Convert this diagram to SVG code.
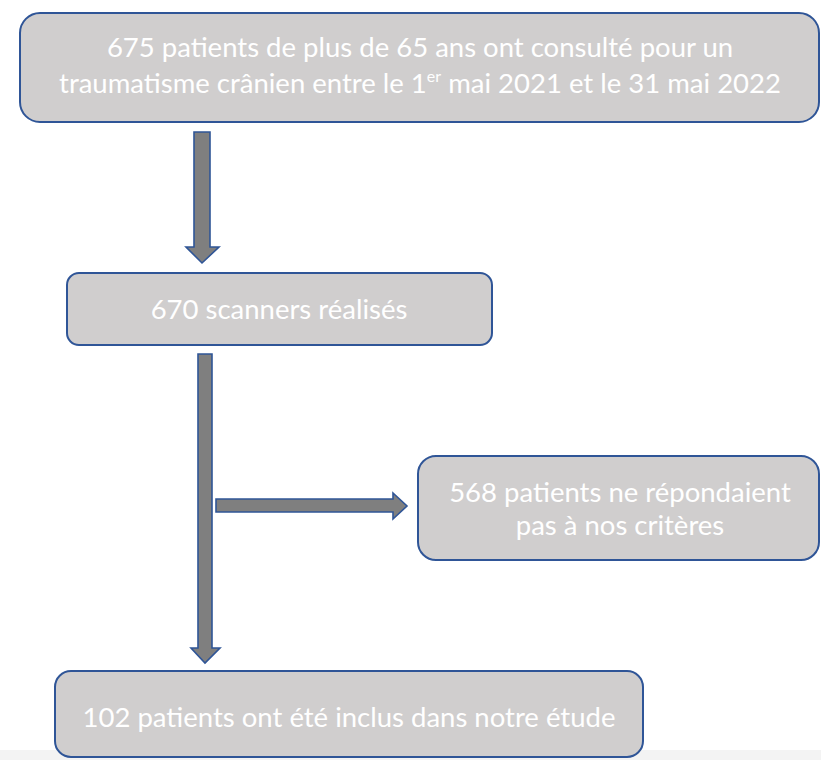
<svg xmlns="http://www.w3.org/2000/svg" width="821" height="760" viewBox="0 0 821 760">
<style>
.box{fill:#d0cece;stroke:#2f5597;stroke-width:2}
.arr{fill:#7f7f7f;stroke:#2f5597;stroke-width:1.6;stroke-linejoin:miter}
.t{fill:#ffffff;font-family:Lato,"Open Sans","Liberation Sans",sans-serif;font-size:27.5px;text-anchor:middle}
</style>
<rect x="0" y="0" width="821" height="760" fill="#ffffff"/>
<rect x="0" y="750" width="821" height="10" fill="#f3f3f3"/>
<g id="connectors">
<polygon class="arr" points="194,132 210,132 210,247 219,247 202,263 186,247 194,247"/>
<polygon class="arr" points="198,354 212,354 212,648 220,648 205,663 191,648 198,648"/>
<polygon class="arr" points="216,499 393,499 393,493 407,506 393,519 393,512 216,512"/>
</g>
<g id="n1">
<rect class="box" x="20" y="13" width="799" height="109" rx="20"/>
<text class="t" x="420" y="57">675 patients de plus de 65 ans ont consulté pour un</text>
<text class="t" x="420" y="93">traumatisme crânien entre le 1<tspan font-size="16" dy="-11">er</tspan><tspan dy="11"> mai 2021 et le 31 mai 2022</tspan></text>
</g>
<g id="n2">
<rect class="box" x="67" y="273" width="425" height="72" rx="12"/>
<text class="t" x="279" y="319">670 scanners réalisés</text>
</g>
<g id="n3">
<rect class="box" x="418" y="456" width="401" height="104" rx="18"/>
<text class="t" x="620" y="502">568 patients ne répondaient</text>
<text class="t" x="620" y="535">pas à nos critères</text>
</g>
<g id="n4">
<rect class="box" x="55" y="671" width="588" height="86" rx="16"/>
<text class="t" x="349" y="727">102 patients ont été inclus dans notre étude</text>
</g>
</svg>
